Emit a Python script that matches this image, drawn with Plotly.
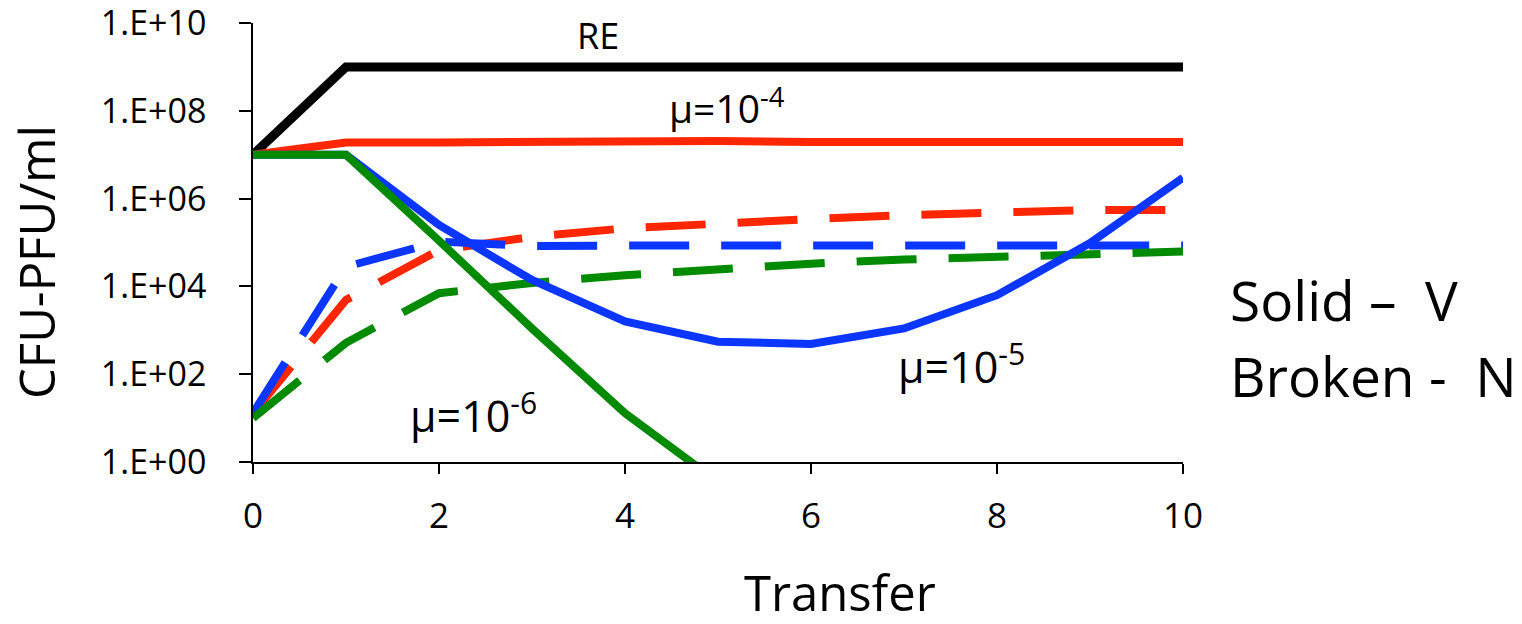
import plotly.graph_objects as go

transfer = list(range(11))

re_v = [1e7, 1e9, 1e9, 1e9, 1e9, 1e9, 1e9, 1e9, 1e9, 1e9, 1e9]
v_mu4 = [1e7, 1.9e7, 1.9e7, 2.0e7, 1.95e7, 2.05e7, 1.95e7, 1.95e7, 1.95e7, 1.95e7, 1.95e7]
v_mu5 = [1e7, 1e7, 2.5e5, 1.4e4, 1.6e3, 550, 490, 1.1e3, 6.3e3, 9.7e4, 3e6]
v_mu6 = [1e7, 1e7, 1.1e5, 1.1e3, 13, 0.35]
n_mu4 = [13, 4.9e3, 6.7e4, 1.35e5, 2.1e5, 2.8e5, 3.4e5, 4.2e5, 4.9e5, 5.5e5, 5.5e5]
n_mu5 = [13, 2.8e4, 1.05e5, 8.3e4, 8.5e4, 8.5e4, 8.5e4, 8.5e4, 8.5e4, 8.5e4, 8.5e4]
n_mu6 = [10, 520, 7e3, 1.2e4, 1.8e4, 2.5e4, 3.3e4, 4.1e4, 4.7e4, 5.7e4, 6.2e4]

ytick_vals = [1, 1e2, 1e4, 1e6, 1e8, 1e10]
ytick_text = ["1.E+00", "1.E+02", "1.E+04", "1.E+06", "1.E+08", "1.E+10"]
xtick_vals = [0, 2, 4, 6, 8, 10]

RED = "#FF2600"
BLUE = "#0A36FF"
GREEN = "#008A00"
FONT = "Open Sans"
DASH = "60px,32px"

L, R, T, B = 253, 1183, 23, 462


def px(xp):
    return (xp - L) / (R - L)


def py(yp):
    return (B - yp) / (B - T)


fig = go.Figure()
for ys, c in [(n_mu4, RED), (n_mu5, BLUE), (n_mu6, GREEN)]:
    fig.add_trace(go.Scatter(x=transfer[:len(ys)], y=ys, mode="lines",
                             line=dict(color=c, width=8, dash=DASH)))
for ys, c, w in [(re_v, "black", 9), (v_mu4, RED, 8), (v_mu5, BLUE, 8), (v_mu6, GREEN, 8)]:
    fig.add_trace(go.Scatter(x=transfer[:len(ys)], y=ys, mode="lines",
                             line=dict(color=c, width=w)))

fig.update_layout(
    width=1522, height=624,
    margin=dict(l=L, r=1522 - R, t=T, b=624 - B),
    paper_bgcolor="white", plot_bgcolor="white",
    showlegend=False,
    font=dict(family=FONT, color="black"),
)
fig.update_xaxes(
    range=[0, 10], tickvals=xtick_vals, ticks="outside", ticklen=10, tickwidth=1.5,
    tickcolor="black", showline=True, linecolor="black", linewidth=1.5,
    showgrid=False, zeroline=False, tickfont=dict(size=35, family=FONT),
    ticklabelstandoff=12, ticklabeloverflow="allow", automargin=False,
)
fig.update_yaxes(
    type="log", range=[0, 10], tickvals=ytick_vals, ticktext=ytick_text,
    ticks="outside", ticklen=12, tickwidth=1.5, tickcolor="black",
    showline=True, linecolor="black", linewidth=1.5, showgrid=False, zeroline=False,
    tickfont=dict(size=34, family=FONT), ticklabelstandoff=26, ticklabeloverflow="allow",
    automargin=False,
)


def ann(xp, yp, text, size, xanchor="center", **kw):
    fig.add_annotation(x=px(xp), y=py(yp), xref="paper", yref="paper", text=text,
                       showarrow=False, font=dict(size=size, family=FONT, color="black"),
                       xanchor=xanchor, yanchor="middle", **kw)


# axis titles
ann(840, 592, "Transfer", 49)
ann(36, 262, "CFU-PFU/ml", 49, textangle=-90)

# line labels
ann(598, 36, "RE", 36)
ann(727, 106, "μ=10<sup>-4</sup>", 39)
ann(961, 364, "μ=10<sup>-5</sup>", 43)
ann(473, 413, "μ=10<sup>-6</sup>", 43)

# style key
ann(1228, 300, "Solid –\u00a0\u00a0V", 55, xanchor="left")
ann(1228, 375, "Broken -\u00a0\u00a0N", 55, xanchor="left")

fig.write_html("out.html")
